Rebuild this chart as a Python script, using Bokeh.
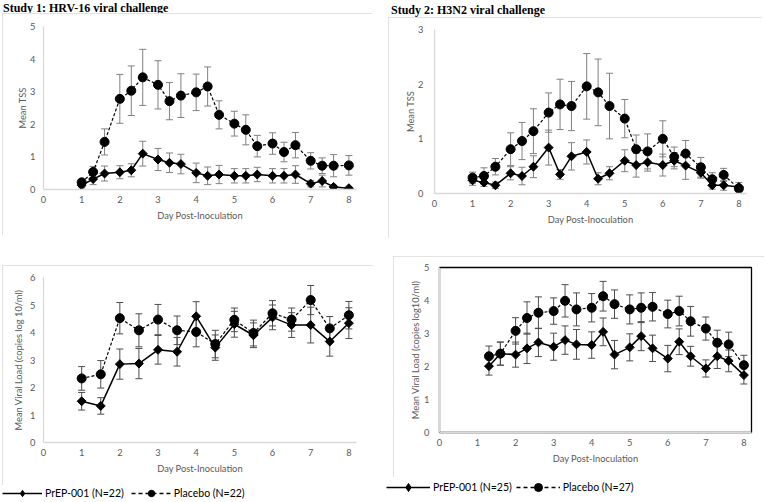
import math
from bokeh.plotting import figure
from bokeh.models import (Range1d, FixedTicker, Whisker, TeeHead, ColumnDataSource,
                          Legend, LegendItem, Div)
from bokeh.layouts import row, column
from bokeh.embed import file_html
from bokeh.resources import INLINE

# ---------------- data ----------------
x_tss = [1, 1.3, 1.6, 2, 2.3, 2.6, 3, 3.3, 3.6, 4, 4.3, 4.6, 5, 5.3, 5.6, 6, 6.3, 6.6, 7, 7.3, 7.6, 8]

s1_tss_placebo = [0.22, 0.54, 1.46, 2.78, 3.03, 3.44, 3.21, 2.71, 2.88, 2.98, 3.16, 2.29, 2.02, 1.83,
                  1.33, 1.41, 1.15, 1.36, 0.88, 0.73, 0.73, 0.74]
s1_tss_placebo_err = [0.07, 0.17, 0.40, 0.75, 0.76, 0.86, 0.74, 0.57, 0.67, 0.56, 0.60, 0.43, 0.38, 0.46,
                      0.33, 0.33, 0.30, 0.39, 0.25, 0.24, 0.34, 0.30]
s1_tss_prep = [0.13, 0.32, 0.49, 0.53, 0.59, 1.10, 0.92, 0.82, 0.78, 0.51, 0.42, 0.46, 0.42, 0.42,
               0.46, 0.42, 0.42, 0.46, 0.18, 0.26, 0.08, 0.04]
s1_tss_prep_err = [0.08, 0.17, 0.23, 0.20, 0.20, 0.38, 0.34, 0.30, 0.30, 0.30, 0.27, 0.28, 0.22, 0.22,
                   0.22, 0.22, 0.22, 0.27, 0.10, 0.18, 0.05, 0.03]

s2_tss_placebo = [0.29, 0.32, 0.49, 0.81, 0.96, 1.14, 1.48, 1.63, 1.60, 1.96, 1.85, 1.60, 1.37, 0.81,
                  0.77, 1.00, 0.67, 0.73, 0.48, 0.26, 0.34, 0.09]
s2_tss_placebo_err = [0.10, 0.15, 0.15, 0.30, 0.34, 0.41, 0.36, 0.46, 0.45, 0.60, 0.61, 0.60, 0.35, 0.26,
                      0.32, 0.33, 0.18, 0.24, 0.18, 0.12, 0.12, 0.06]
s2_tss_prep = [0.24, 0.20, 0.15, 0.37, 0.32, 0.49, 0.84, 0.35, 0.68, 0.76, 0.27, 0.37, 0.60, 0.52,
               0.57, 0.52, 0.60, 0.51, 0.38, 0.15, 0.15, 0.12]
s2_tss_prep_err = [0.09, 0.07, 0.06, 0.12, 0.16, 0.20, 0.32, 0.09, 0.25, 0.22, 0.11, 0.12, 0.20, 0.22,
                   0.16, 0.20, 0.15, 0.25, 0.10, 0.07, 0.09, 0.08]

x_vl1 = [1, 1.5, 2, 2.5, 3, 3.5, 4, 4.5, 5, 5.5, 6, 6.5, 7, 7.5, 8]
s1_vl_placebo = [2.33, 2.48, 4.52, 4.08, 4.47, 4.08, 4.02, 3.58, 4.46, 3.98, 4.70, 4.47, 5.18, 4.15, 4.63]
s1_vl_placebo_err = [0.43, 0.50, 0.57, 0.60, 0.55, 0.52, 0.54, 0.50, 0.43, 0.47, 0.46, 0.42, 0.53, 0.43, 0.50]
s1_vl_prep = [1.50, 1.33, 2.85, 2.87, 3.37, 3.30, 4.59, 3.45, 4.30, 3.90, 4.55, 4.27, 4.27, 3.67, 4.34]
s1_vl_prep_err = [0.32, 0.30, 0.55, 0.55, 0.52, 0.52, 0.53, 0.46, 0.47, 0.45, 0.45, 0.45, 0.65, 0.53, 0.56]

x_vl2 = [1.3, 1.6, 2, 2.3, 2.6, 3, 3.3, 3.6, 4, 4.3, 4.6, 5, 5.3, 5.6, 6, 6.3, 6.6, 7, 7.3, 7.6, 8]
s2_vl_placebo = [2.31, 2.39, 3.08, 3.47, 3.63, 3.68, 3.99, 3.73, 3.78, 4.13, 3.89, 3.73, 3.78, 3.81,
                 3.59, 3.68, 3.37, 3.15, 2.72, 2.67, 2.04]
s2_vl_placebo_err = [0.31, 0.35, 0.40, 0.49, 0.48, 0.40, 0.49, 0.50, 0.43, 0.45, 0.43, 0.44, 0.45, 0.43,
                     0.42, 0.45, 0.45, 0.35, 0.38, 0.37, 0.30]
s2_vl_prep = [2.01, 2.39, 2.36, 2.55, 2.73, 2.60, 2.80, 2.67, 2.65, 3.05, 2.36, 2.58, 2.92, 2.55,
              2.24, 2.75, 2.31, 1.94, 2.31, 2.17, 1.74]
s2_vl_prep_err = [0.27, 0.35, 0.38, 0.46, 0.43, 0.41, 0.43, 0.45, 0.40, 0.42, 0.43, 0.41, 0.44, 0.40,
                  0.40, 0.39, 0.30, 0.26, 0.37, 0.33, 0.27]

x_ticks = [0, 1, 2, 3, 4, 5, 6, 7, 8]
title1 = "Study 1: HRV-16 viral challenge"
title2 = "Study 2: H3N2 viral challenge"
xlabel = "Day Post-Inoculation"
ylabel_tss = "Mean TSS"
ylabel_vl1 = "Mean Viral Load (copies log 10/ml)"
ylabel_vl2 = "Mean Viral Load (copies log10/ml)"
legend1 = ["PrEP-001 (N=22)", "Placebo (N=22)"]
legend2 = ["PrEP-001 (N=25)", "Placebo (N=27)"]

# ---------------- style ----------------
FONT = "Lato"
GRAY_TXT = "#595959"
AXIS_GRAY = "#d9d9d9"
X_END = 8.2
BOX_STYLE = {"outline": "1px solid #d9d9d9", "outline-offset": "-1px"}
DIAMOND = dict(marker="square", angle=math.pi / 4, size=6.3)


def make_panel(frame_w, frame_h, borders, margin, ymax, ylabel, x, prep, prep_err, plac, plac_err,
               ytick_standoff, ylabel_standoff, err_color, frame_black=False):
    left, right, top, bottom = borders
    p = figure(frame_width=frame_w, frame_height=frame_h, output_backend="svg", toolbar_location=None,
               x_range=Range1d(0, X_END), y_range=Range1d(0, ymax),
               min_border_left=left, min_border_right=right,
               min_border_top=top, min_border_bottom=bottom)
    p.margin = margin
    p.styles = BOX_STYLE
    p.outline_line_color = "black" if frame_black else None
    p.outline_line_width = 1.3
    p.grid.visible = False

    for ax in (p.xaxis[0], p.yaxis[0]):
        ax.axis_line_color = AXIS_GRAY
        ax.axis_line_width = 1.3
        ax.major_tick_line_color = None
        ax.minor_tick_line_color = None
        ax.major_tick_out = 0
        ax.major_tick_in = 0
        ax.minor_tick_out = 0
        ax.minor_tick_in = 0
        ax.major_label_text_font = FONT
        ax.major_label_text_font_size = "9.3px"
        ax.major_label_text_color = GRAY_TXT
        ax.axis_label_text_font = FONT
        ax.axis_label_text_font_size = "9.3px"
        ax.axis_label_text_font_style = "normal"
        ax.axis_label_text_color = GRAY_TXT

    p.xaxis[0].ticker = FixedTicker(ticks=x_ticks)
    p.xaxis[0].axis_label = xlabel
    p.xaxis[0].major_label_standoff = 6
    p.xaxis[0].axis_label_standoff = 4
    p.yaxis[0].ticker = FixedTicker(ticks=list(range(0, ymax + 1)))
    p.yaxis[0].axis_label = ylabel
    p.yaxis[0].major_label_standoff = ytick_standoff
    p.yaxis[0].axis_label_standoff = ylabel_standoff

    for vals, errs in ((plac, plac_err), (prep, prep_err)):
        src = ColumnDataSource(dict(base=x,
                                    upper=[v + e for v, e in zip(vals, errs)],
                                    lower=[v - e for v, e in zip(vals, errs)]))
        p.add_layout(Whisker(base="base", upper="upper", lower="lower", source=src,
                             line_color=err_color, line_width=1,
                             upper_head=TeeHead(size=7, line_color=err_color, line_width=1),
                             lower_head=TeeHead(size=7, line_color=err_color, line_width=1)))

    p.line(x, plac, line_color="black", line_width=1.2, line_dash="3 2")
    p.scatter(x, plac, marker="circle", size=9, fill_color="black", line_color="black")
    p.line(x, prep, line_color="black", line_width=1.5)
    p.scatter(x, prep, fill_color="black", line_color="black", **DIAMOND)
    return p


def make_legend(w, h, labels, x, prep, plac, lx, glyph_w, spacing):
    # legend-only strip: the series are attached but fall outside its (negative) y range
    p = figure(width=w, height=h, output_backend="svg", toolbar_location=None,
               x_range=Range1d(0, X_END), y_range=Range1d(-2, -1),
               x_axis_location=None, y_axis_location=None, min_border=0)
    p.outline_line_color = None
    p.grid.visible = False
    l_prep = p.line(x, prep, line_color="black", line_width=1.5)
    m_prep = p.scatter(x, prep, marker="diamond", size=9, fill_color="black", line_color="black")
    l_plac = p.line(x, plac, line_color="black", line_width=1.5, line_dash="4 3")
    m_plac = p.scatter(x, plac, marker="circle", size=9, fill_color="black", line_color="black")
    lg = Legend(items=[LegendItem(label=labels[0], renderers=[l_prep, m_prep]),
                       LegendItem(label=labels[1], renderers=[l_plac, m_plac])],
                location=(lx, 0), orientation="horizontal",
                glyph_width=glyph_w, glyph_height=h, label_standoff=3, spacing=spacing,
                padding=0, margin=0, border_line_color=None, background_fill_alpha=0,
                label_text_font=FONT, label_text_font_size="10.5px", label_text_color="black",
                label_height=h)
    p.add_layout(lg)
    return p


def title_div(text, w, h, lh, pad):
    html = ('<div style="font-family:\'Liberation Serif\'; font-weight:bold; font-size:12px; '
            f'line-height:{lh}px; padding-left:{pad}px; white-space:nowrap; color:black;">{text}</div>')
    return Div(text=html, width=w, height=h, margin=0)


# left column (origin x=0)
tl = make_panel(313, 163, (41, 16, 13, 46), (0, 0, 0, 2), 5, ylabel_tss, x_tss,
                s1_tss_prep, s1_tss_prep_err, s1_tss_placebo, s1_tss_placebo_err,
                ytick_standoff=8, ylabel_standoff=-1, err_color="#808080")
bl = make_panel(313, 165, (41, 17, 12, 43), (30, 0, 0, 2), 6, ylabel_vl1, x_vl1,
                s1_vl_prep, s1_vl_prep_err, s1_vl_placebo, s1_vl_placebo_err,
                ytick_standoff=8, ylabel_standoff=3, err_color="#4d4d4d")
leg1 = make_legend(360, 16, legend1, x_vl1, s1_vl_prep, s1_vl_placebo, 2, 40, 7)

# right column (origin x=383)
tr = make_panel(312, 164, (46, 16, 12, 45), (0, 0, 0, 5), 3, ylabel_tss, x_tss,
                s2_tss_prep, s2_tss_prep_err, s2_tss_placebo, s2_tss_placebo_err,
                ytick_standoff=11, ylabel_standoff=-1, err_color="#808080")
br = make_panel(312, 165, (41, 18, 11, 45), (18, 0, 0, 10), 5, ylabel_vl2, x_vl2,
                s2_vl_prep, s2_vl_prep_err, s2_vl_placebo, s2_vl_placebo_err,
                ytick_standoff=10, ylabel_standoff=0, err_color="#4d4d4d", frame_black=True)
leg2 = make_legend(360, 20, legend2, x_vl2, s2_vl_prep, s2_vl_placebo, 3, 44, 4)

left_col = column(title_div(title1, 360, 13, 12, 3), tl, bl, row(leg1))
right_col = column(title_div(title2, 360, 17, 20, 8), tr, br, row(leg2))
left_col.width = 373
right_col.width = 381
right_col.margin = (0, 0, 0, 10)
layout = row(left_col, right_col)

open("out.html", "w").write(file_html(layout, INLINE))
